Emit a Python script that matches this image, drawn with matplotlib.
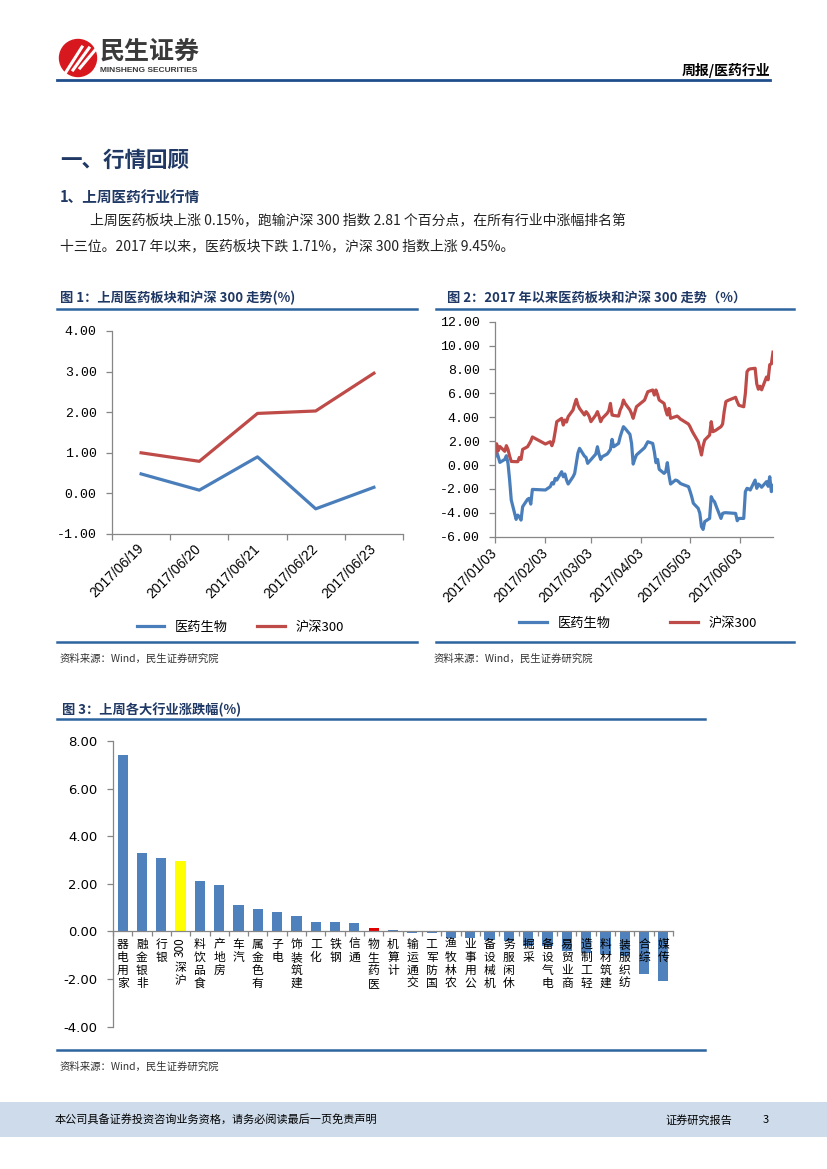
import matplotlib
matplotlib.use('Agg')
import matplotlib.pyplot as plt
import numpy as np
import pandas as pd
from matplotlib.patches import Ellipse, Rectangle
from matplotlib.lines import Line2D

plt.rcParams['font.family'] = ['Noto Sans CJK SC', 'DejaVu Sans']
plt.rcParams['axes.unicode_minus'] = False

# fig 1: weekly cumulative change (%)
week_days = ['2017/06/19', '2017/06/20', '2017/06/21', '2017/06/22', '2017/06/23']
week_med = [0.48, 0.08, 0.90, -0.38, 0.15]
week_hs300 = [1.00, 0.79, 1.97, 2.03, 2.96]

# fig 2: change since start of 2017 (%), trading days
ytd_days = ['01-03', '01-04', '01-05', '01-06', '01-09', '01-10', '01-11', '01-12', '01-13',
            '01-16', '01-17', '01-18', '01-19', '01-20', '01-23', '01-24', '01-25', '01-26',
            '02-03', '02-06', '02-07', '02-08', '02-09', '02-10', '02-13', '02-14', '02-15',
            '02-16', '02-17', '02-20', '02-21', '02-22', '02-23', '02-24', '02-27', '02-28',
            '03-01', '03-02', '03-03', '03-06', '03-07', '03-08', '03-09', '03-10', '03-13',
            '03-14', '03-15', '03-16', '03-17', '03-20', '03-21', '03-22', '03-23', '03-24',
            '03-27', '03-28', '03-29', '03-30', '03-31',
            '04-05', '04-06', '04-07', '04-10', '04-11', '04-12', '04-13', '04-14', '04-17',
            '04-18', '04-19', '04-20', '04-21', '04-24', '04-25', '04-26', '04-27', '04-28',
            '05-02', '05-03', '05-04', '05-05', '05-08', '05-09', '05-10', '05-11', '05-12',
            '05-15', '05-16', '05-17', '05-18', '05-19', '05-22', '05-23', '05-24', '05-25',
            '05-26', '05-31',
            '06-01', '06-02', '06-05', '06-06', '06-07', '06-08', '06-09', '06-12', '06-13',
            '06-14', '06-15', '06-16', '06-19', '06-20', '06-21', '06-22', '06-23']
ytd_med = [0.70, 1.12, 0.70, 0.22, 0.47, 0.78, 0.14, -1.26, -2.93,
           -4.55, -4.19, -4.33, -4.61, -3.49, -2.87, -2.79, -3.27, -2.04,
           -2.09, -1.81, -1.48, -1.59, -1.12, -1.26, -0.56, -0.98, -0.75,
           -1.26, -1.59, -0.98, -0.70, 0.14, 1.00, 1.40, 0.75, 0.64,
           0.14, 0.30, 0.45, 0.92, 1.53, 0.90, 0.47, 0.70, 0.92,
           1.10, 1.31, 2.15, 1.53, 1.81, 2.37, 2.80, 3.21, 3.07,
           2.57, 1.81, 0.08, 0.50, 0.84,
           1.45, 1.70, 1.95, 1.81, 1.12, 0.20, 0.47, -0.36, -0.70,
           -0.56, 0.20, -0.84, -1.59, -1.26, -1.30, -1.40, -1.54, -1.60,
           -1.81, -2.20, -2.65, -3.20, -3.63, -4.05, -5.16, -5.39, -4.74,
           -4.47, -2.65, -2.93, -3.07, -3.43, -4.47, -4.05, -4.00, -3.99,
           -4.00, -4.05,
           -4.66, -4.47, -4.47, -2.23, -1.95, -2.00, -2.09, -1.26, -1.95,
           -1.59, -1.70, -1.86, -1.39, -1.78, -0.98, -2.23, -1.71]
ytd_hs300 = [0.95, 1.78, 1.20, 1.55, 1.15, 1.62, 1.30, 0.75, 0.30,
             0.28, 0.28, 0.64, 0.47, 1.31, 1.53, 1.76, 2.00, 2.35,
             1.76, 1.95, 1.62, 2.00, 2.79, 3.63, 3.91, 3.35, 3.77,
             3.60, 4.05, 4.61, 5.10, 5.50, 5.02, 4.74, 4.19, 4.47,
             4.30, 4.05, 3.63, 4.19, 4.47, 4.10, 3.63, 3.91, 4.33,
             4.55, 5.16, 4.19, 4.15, 4.10, 4.61, 4.90, 5.44, 5.16,
             4.61, 4.30, 3.91, 4.40, 4.88,
             5.44, 5.80, 6.14, 6.28, 5.86, 6.28, 5.90, 5.44, 5.16,
             4.60, 4.19, 4.74, 3.91, 4.05, 4.10, 4.00, 3.85, 3.77,
             3.43, 3.20, 2.90, 2.65, 1.95, 1.40, 0.84, 1.60, 2.09,
             2.51, 3.63, 2.79, 2.85, 2.93, 3.21, 3.43, 4.50, 5.30,
             5.39, 5.67,
             5.30, 5.00, 4.88, 6.00, 7.81, 8.00, 8.05, 8.10, 6.80,
             6.35, 6.60, 6.30, 7.37, 7.14, 8.40, 8.47, 9.45]
ytd_ticks = ['2017-01-03', '2017-02-03', '2017-03-03', '2017-04-03', '2017-05-03', '2017-06-03']

# fig 3: weekly change by industry (%)
industries = ['家用电器', '非银金融', '银行', '沪深300', '食品饮料', '房地产', '汽车', '有色金属',
              '电子', '建筑装饰', '化工', '钢铁', '通信', '医药生物', '计算机', '交通运输',
              '国防军工', '农林牧渔', '公用事业', '机械设备', '休闲服务', '采掘', '电气设备',
              '商业贸易', '轻工制造', '建筑材料', '纺织服装', '综合', '传媒']
ind_chg = [7.41, 3.30, 3.07, 2.96, 2.12, 1.94, 1.11, 0.95, 0.80, 0.66, 0.38, 0.38, 0.34,
           0.15, 0.08, -0.05, -0.05, -0.28, -0.28, -0.34, -0.42, -0.62, -0.63, -0.80,
           -0.91, -0.94, -1.01, -1.78, -2.09]

W, H = 827, 1169
def fx(x):
    return x / W
def fy(y):
    return 1 - y / H

NAVY = '#1F3864'
RULE = '#2E64A0'
BLUE = '#4A7EBB'
RED = '#BE4B48'
GREY = '#868686'

fig = plt.figure(figsize=(8.27, 11.69), dpi=100)

# header
fig.add_artist(Ellipse((fx(78), fy(58)), 37 / W, 37 / H, color='#D7191F'))
for k in range(3):
    fig.add_artist(Line2D([fx(66 + 7 * k), fx(82 + 7 * k)], [fy(72 - 2 * k), fy(47 + k)],
                          color='white', lw=2.2))
fig.text(fx(100), fy(52), '民生证券', fontsize=18, fontweight='bold', color='#3A3A3A', va='center')
fig.text(fx(100), fy(71), 'MINSHENG SECURITIES', fontsize=6, fontweight='bold',
         color='#3A3A3A', va='center', family='Liberation Sans')
fig.text(fx(770), fy(70), '周报/医药行业', fontsize=10, fontweight='bold', ha='right', va='center')
fig.add_artist(Line2D([fx(57), fx(770)], [fy(80), fy(80)], color='#1F4E8C', lw=2))

# section text
fig.text(fx(60), fy(160), '一、行情回顾', fontsize=15.5, fontweight='bold', color=NAVY, va='center')
fig.text(fx(60), fy(197), '1、上周医药行业行情', fontsize=10.5, fontweight='bold', color=NAVY, va='center')
fig.text(fx(90), fy(220), '上周医药板块上涨 0.15%，跑输沪深 300 指数 2.81 个百分点，在所有行业中涨幅排名第',
         fontsize=10, color='#222222', va='center')
fig.text(fx(60), fy(246), '十三位。2017 年以来，医药板块下跌 1.71%，沪深 300 指数上涨 9.45%。',
         fontsize=10, color='#222222', va='center')

# chart titles, rules, sources
fig.text(fx(60), fy(298), '图 1：上周医药板块和沪深 300 走势(%)', fontsize=9.5, fontweight='bold',
         color=NAVY, va='center')
fig.text(fx(447), fy(298), '图 2：2017 年以来医药板块和沪深 300 走势（%）', fontsize=9.5, fontweight='bold',
         color=NAVY, va='center')
fig.text(fx(62), fy(710), '图 3：上周各大行业涨跌幅(%)', fontsize=9.5, fontweight='bold',
         color=NAVY, va='center')
for x0, x1, y in [(57, 417, 309), (436, 794, 309), (57, 417, 642), (436, 794, 642),
                  (57, 705, 719), (57, 705, 1050)]:
    fig.add_artist(Line2D([fx(x0), fx(x1)], [fy(y), fy(y)], color=RULE, lw=1.8))
for x, y in [(60, 659), (434, 659), (60, 1067)]:
    fig.text(fx(x), fy(y), '资料来源：Wind，民生证券研究院', fontsize=7.5, color='#333333', va='center')

# footer
fig.add_artist(Rectangle((0, fy(1137)), 1, 35 / H, color='#CDDBEA', lw=0))
fig.text(fx(55), fy(1120), '本公司具备证券投资咨询业务资格，请务必阅读最后一页免责声明',
         fontsize=8, va='center')
fig.text(fx(665), fy(1120), '证券研究报告', fontsize=8, va='center')
fig.text(fx(763), fy(1120), '3', fontsize=8, va='center')


def style_axes(ax):
    for s in ['top', 'right']:
        ax.spines[s].set_visible(False)
    for s in ['left', 'bottom']:
        ax.spines[s].set_color(GREY)
        ax.spines[s].set_linewidth(0.9)
    ax.tick_params(which='both', direction='out', color=GREY, width=0.9)
    ax.patch.set_alpha(0)


# chart 1
ax1 = fig.add_axes([fx(112), fy(534), (403 - 112) / W, (534 - 331) / H])
xs = np.arange(len(week_days))
ax1.plot(xs, week_med, color=BLUE, lw=2.3, label='医药生物')
ax1.plot(xs, week_hs300, color=RED, lw=2.3, label='沪深300')
ax1.set_xlim(-0.5, len(week_days) - 0.5)
ax1.set_ylim(-1, 4)
yt = np.arange(-1, 5, 1)
ax1.set_yticks(yt)
ax1.set_yticklabels([f'{v:.2f}' for v in yt], family='Liberation Mono', fontsize=9.5)
ax1.set_xticks(np.arange(-0.5, len(week_days), 1))
ax1.set_xticklabels([])
ax1.set_xticks(xs, minor=True)
ax1.set_xticklabels(week_days, minor=True, rotation=45, ha='right', va='center',
                    rotation_mode='anchor', family='Liberation Sans', fontsize=10)
style_axes(ax1)
ax1.tick_params(axis='both', which='major', length=4, pad=7)
ax1.tick_params(axis='x', which='minor', length=0, pad=9)
fig.legend(*ax1.get_legend_handles_labels(), loc='center', bbox_to_anchor=(fx(240), fy(627)),
           ncol=2, frameon=False, fontsize=9.5, handlelength=2.1, columnspacing=2.2)

# chart 2
ax2 = fig.add_axes([fx(495), fy(536.7), (773 - 495) / W, (536.7 - 321.7) / H])
dates = pd.to_datetime(['2017-' + d for d in ytd_days])
ax2.plot(dates, ytd_med, color=BLUE, lw=2.3, label='医药生物')
ax2.plot(dates, ytd_hs300, color=RED, lw=2.3, label='沪深300')
ax2.set_xlim(pd.Timestamp('2017-01-03'), pd.Timestamp('2017-06-23'))
ax2.set_ylim(-6, 12)
yt2 = np.arange(-6, 13, 2)
ax2.set_yticks(yt2)
ax2.set_yticklabels([f'{v:.2f}' for v in yt2], family='Liberation Mono', fontsize=9.5)
tick_dates = pd.to_datetime(ytd_ticks)
ax2.set_xticks(tick_dates)
ax2.set_xticklabels([d.strftime('%Y/%m/%d') for d in tick_dates], rotation=45, ha='right',
                    va='center', rotation_mode='anchor', family='Liberation Sans', fontsize=10)
style_axes(ax2)
ax2.tick_params(axis='y', length=4, pad=7)
ax2.tick_params(axis='x', length=4, pad=6)
fig.legend(*ax2.get_legend_handles_labels(), loc='center', bbox_to_anchor=(fx(638), fy(623)),
           ncol=2, frameon=False, fontsize=9.5, handlelength=2.1, columnspacing=4.5)

# chart 3
ax3 = fig.add_axes([fx(113), fy(1026.7), (673 - 113) / W, (1026.7 - 741) / H])
xi = np.arange(len(industries))
colors = ['#FFFF00' if n == '沪深300' else '#E00000' if n == '医药生物' else '#4F81BD'
          for n in industries]
ax3.bar(xi, ind_chg, width=0.53, color=colors, zorder=2)
ax3.set_xlim(-0.5, len(industries) - 0.5)
ax3.set_ylim(-4, 8)
yt3 = np.arange(-4, 9, 2)
ax3.set_yticks(yt3)
ax3.set_yticklabels([f'{v:.2f}' for v in yt3], family='DejaVu Sans', fontsize=9.5)
ax3.set_xticks(np.arange(-0.5, len(industries), 1))
ax3.set_xticklabels([])
style_axes(ax3)
ax3.spines['bottom'].set_position(('data', 0))
ax3.tick_params(axis='y', length=4, pad=7)
ax3.tick_params(axis='x', length=3.5)

# vertical category labels, read bottom to top, CJK upright
for i, name in enumerate(industries):
    tokens = []
    for ch in name:
        if ch.isascii() and tokens and tokens[-1].isascii():
            tokens[-1] += ch
        else:
            tokens.append(ch)
    off = -4.5
    for tok in reversed(tokens):
        if tok.isascii():
            ax3.annotate(tok, xy=(i, 0), xytext=(0, off), textcoords='offset points',
                         ha='center', va='top', rotation=90, fontsize=8.5, zorder=3)
            off -= 0.6 * 8.5 * len(tok) + 1.5
        else:
            ax3.annotate(tok, xy=(i, 0), xytext=(0, off), textcoords='offset points',
                         ha='center', va='top', fontsize=8.5, zorder=3)
            off -= 9.4

fig.savefig('out.png', dpi=100)
